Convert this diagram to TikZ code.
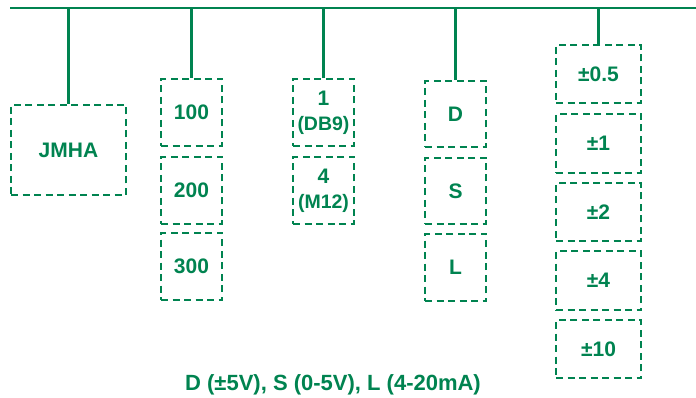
\documentclass[tikz,border=0pt]{standalone}
\usepackage{fontspec}
\setmainfont{Liberation Sans}
\definecolor{jgreen}{RGB}{0,131,80}
\begin{document}
\begin{tikzpicture}[x=1pt,y=-1pt,
  box/.style={draw=jgreen, line width=2.8pt, dash pattern=on 7pt off 4.5pt, text=jgreen,
    font=\bfseries\fontsize{21}{23}\selectfont, inner sep=0pt, align=center},
  conn/.style={draw=jgreen, line width=2.7pt},
  note/.style={text=jgreen, font=\bfseries\fontsize{22}{24}\selectfont, inner sep=0pt}]
\useasboundingbox (0,0) rectangle (696,398);
\coordinate (L) at (10,8);
\coordinate (R) at (696,8);
\draw[conn] (L) -- (R);
% boxes: centre, width, height
\node[box, minimum width=115pt, minimum height=90pt] (jmha) at (68.5,150) {JMHA};
\node[box, minimum width=61pt, minimum height=67pt] (b100) at (191.5,112.5) {100};
\node[box, minimum width=61pt, minimum height=67pt] (b200) at (191.5,190.5) {200};
\node[box, minimum width=61pt, minimum height=67pt] (b300) at (191.5,266.5) {300};
\node[box, minimum width=61pt, minimum height=67pt] (c1) at (323.5,112.5) {1\\[2pt]{\fontsize{19.5}{20}\selectfont (DB9)}};
\node[box, minimum width=61pt, minimum height=67pt] (c4) at (323.5,190.5) {4\\[2pt]{\fontsize{19.5}{20}\selectfont (M12)}};
\node[box, minimum width=61pt, minimum height=66pt] (d) at (455.5,114) {D};
\node[box, minimum width=61pt, minimum height=66pt] (s) at (455.5,191) {S};
\node[box, minimum width=61pt, minimum height=67pt] (l) at (455.5,267.5) {L};
\node[box, minimum width=85pt, minimum height=58pt] (p05) at (598.5,74) {±0.5};
\node[box, minimum width=85pt, minimum height=59pt] (p1) at (598.5,143.5) {±1};
\node[box, minimum width=85pt, minimum height=58pt] (p2) at (598.5,212) {±2};
\node[box, minimum width=85pt, minimum height=59pt] (p4) at (598.5,280.5) {±4};
\node[box, minimum width=85pt, minimum height=58pt] (p10) at (598.5,349) {±10};
\foreach \n in {jmha,b100,c1,d,p05}
  \draw[conn] (\n.north) -- (\n.north |- L);
\node[note] (caption) at (333,385) {D (±5V), S (0-5V), L (4-20mA)};
\end{tikzpicture}
\end{document}
